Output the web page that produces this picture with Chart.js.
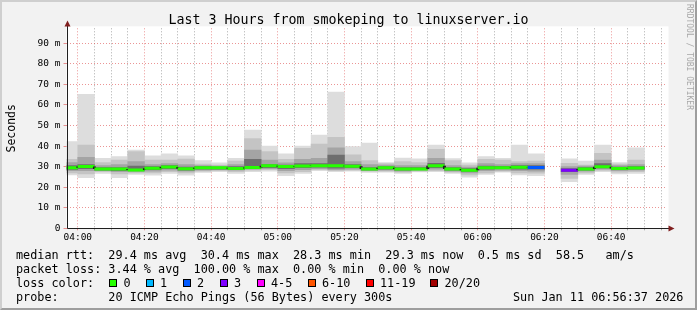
<!DOCTYPE html>
<html><head><meta charset="utf-8">
<script src="https://cdn.jsdelivr.net/npm/chart.js@4"></script>
<style>
html,body{margin:0;padding:0;background:#f2f2f2;}
#wrap{position:relative;width:697px;height:310px;overflow:hidden;background:#f2f2f2;}
#frame{position:absolute;left:0;top:0;width:697px;height:310px;box-sizing:border-box;border-style:solid;border-width:2px;border-color:#cfcfcf #9e9e9e #9e9e9e #cfcfcf;pointer-events:none;}
canvas{position:absolute;left:0;top:0;}
.t{position:absolute;font-family:"DejaVu Sans Mono",monospace;white-space:pre;color:#000;font-size:11.8px;line-height:14px;}
.box{position:absolute;width:6px;height:6px;border:1px solid #000;}
#title{position:absolute;left:0;top:12px;width:697px;text-align:center;font-family:"DejaVu Sans Mono",monospace;font-size:13.3px;line-height:16px;color:#000;white-space:pre;}
#rrd{position:absolute;left:684px;top:4px;writing-mode:vertical-rl;font-family:"DejaVu Sans Mono",monospace;font-size:8px;line-height:10px;color:#a8a8a8;white-space:pre;}
</style></head>
<body>
<div id="wrap">
<canvas id="c" width="697" height="310"></canvas>
<div id="title">Last 3 Hours from smokeping to linuxserver.io</div>
<div id="rrd">RRDTOOL / TOBI OETIKER</div>
<div id="legend"></div>
<div id="frame"></div>
</div>
<script>
// ---- data ----
const intervalStart = ['03:55','04:00','04:05','04:10','04:15','04:20','04:25','04:30','04:35','04:40','04:45','04:50','04:55','05:00','05:05','05:10','05:15','05:20','05:25','05:30','05:35','05:40','05:45','05:50','05:55','06:00','06:05','06:10','06:15','06:20','06:25','06:30','06:35','06:40','06:45'];
const smokeMin = [26.0,24.6,26.7,24.6,26.2,25.9,26.7,25.9,27.2,27.5,26.7,27.5,27.8,25.6,26.7,28.0,27.5,27.8,27.2,27.3,26.7,27.4,27.5,26.7,24.9,26.2,27.3,26.0,25.6,null,22.7,26.2,27.5,26.5,26.7];
const band2Lo  = [27.0,26.5,27.5,26.5,27.0,27.0,27.5,27.0,27.8,28.0,27.5,28.3,28.5,27.0,27.5,28.5,28.0,28.3,27.8,27.8,27.3,27.8,28.0,27.3,26.0,27.0,27.8,27.0,26.8,null,24.3,27.0,28.2,27.3,27.5];
const band3Lo  = [28.0,28.0,28.0,27.5,27.5,27.8,28.3,27.8,28.3,28.5,28.3,28.8,29.0,28.0,28.5,29.0,28.5,28.8,28.0,28.3,27.8,28.2,28.8,27.8,27.0,28.0,28.3,28.0,27.8,null,26.2,27.8,28.8,28.0,28.3];
const band4Lo  = [28.7,29.0,28.3,28.0,28.0,28.5,29.0,28.3,28.8,28.8,28.5,29.2,29.5,29.0,29.5,29.7,29.3,29.5,28.4,28.8,28.3,28.5,29.5,28.3,27.7,28.8,29.0,28.8,28.8,null,27.5,28.3,29.4,28.6,28.8];
const median   = [29.5,30.1,28.8,28.8,28.4,29.2,29.8,29.0,29.5,29.5,29.1,29.6,30.4,30.1,30.3,30.4,30.4,30.2,28.8,29.5,28.8,28.9,30.4,28.8,28.3,29.5,29.5,29.7,29.6,null,28.3,28.8,30.0,29.1,29.3];
const band4Hi  = [30.5,31.0,29.5,29.5,30.3,30.0,30.5,29.8,30.0,29.8,30.0,33.5,31.0,30.8,31.5,31.5,35.6,31.0,29.5,30.0,29.5,29.5,31.6,29.5,29.0,30.3,30.2,30.5,30.5,null,29.0,29.5,31.5,29.8,30.0];
const band3Hi  = [32.0,34.5,30.5,31.0,32.4,31.0,31.5,31.0,30.5,30.3,31.0,38.1,33.2,31.9,33.5,34.0,39.2,32.5,31.0,30.8,30.5,30.5,34.0,30.5,29.8,31.5,31.0,31.5,31.5,null,30.0,30.3,33.2,30.5,31.0];
const band2Hi  = [33.5,40.5,32.0,33.2,37.3,33.2,33.2,33.7,31.3,30.8,32.7,43.7,37.3,33.5,38.9,41.0,44.3,35.7,32.9,31.5,32.4,32.0,38.4,32.9,30.8,33.5,33.2,32.4,32.7,null,31.6,30.8,36.5,31.3,33.2];
const smokeMax = [42.2,65.2,34.0,34.9,38.1,35.2,36.2,35.2,32.9,31.9,34.0,47.8,40.0,36.2,40.0,45.4,66.3,39.7,41.5,32.0,34.2,33.8,40.5,33.9,31.9,34.9,34.1,40.5,36.2,null,33.8,32.7,40.5,32.0,39.2];
const lossCount = [0,0,0,0,0,0,0,0,0,0,0,0,0,0,0,0,0,0,0,0,0,0,0,0,0,0,0,0,2,20,3,0,0,0,0];
const lossLabels = ['0','1','2','3','4-5','6-10','11-19','20/20'];
const lossColors = ['#26ff00','#00b8ff','#0059ff','#7e00ff','#ff00ff','#ff5500','#ff0000','#a10000'];
const yTickValues = [0,5,10,15,20,25,30,35,40,45,50,55,60,65,70,75,80,85,90,95];
const xRange = ['03:56:37','06:56:37'];
const legendLines = [
  'median rtt:  29.4 ms avg  30.4 ms max  28.3 ms min  29.3 ms now  0.5 ms sd  58.5   am/s',
  'packet loss: 3.44 % avg  100.00 % max  0.00 % min  0.00 % now',
  'loss color:',
  'probe:       20 ICMP Echo Pings (56 Bytes) every 300s'
];
const timestampText = 'Sun Jan 11 06:56:37 2026';
const lossBoxX = [109,145.5,182.5,219.5,256.5,307.5,365.5,430];

// ---- helpers ----
const toMin = s => { const p = s.split(':').map(Number); return p[0]*60 + p[1] + (p[2]||0)/60; };
const starts = intervalStart.map(toMin);
const lossIdx = n => n===0?0:n===1?1:n===2?2:n===3?3:n<=5?4:n<=10?5:n<=19?6:7;
const pad2 = n => String(n).padStart(2,'0');

function band(lo, hi){
  const out = [];
  starts.forEach((t,i)=>{ if(lo[i]!=null) out.push({x:t+2.5, y:[lo[i],hi[i]]}); });
  return out;
}
const medPts = [], medCol = [];
starts.forEach((t,i)=>{
  if(median[i]==null){ medPts.push({x:t+2.5,y:null}); medCol.push(null); return; }
  const c = lossColors[lossIdx(lossCount[i])];
  medPts.push({x:t,y:median[i]}); medCol.push(c);
  medPts.push({x:t+5,y:median[i]}); medCol.push(c);
});

// legend html
const lg = document.getElementById('legend');
const rowY = [248,262,276,290];
function addText(txt,x,y){const d=document.createElement('div'); d.className='t'; d.textContent=txt; d.style.left=x+'px'; d.style.top=y+'px'; lg.appendChild(d); return d;}
legendLines.forEach((txt,r)=>addText(txt,16,rowY[r]));
addText(timestampText,513,rowY[3]);
lossLabels.forEach((lab,i)=>{
  const b=document.createElement('div'); b.className='box'; b.style.background=lossColors[i];
  b.style.left=lossBoxX[i]+'px'; b.style.top=(rowY[2]+3)+'px'; lg.appendChild(b);
  addText(lab,lossBoxX[i]+14.5,rowY[2]);
});

const MINOR='rgba(143,143,143,0.75)', MAJOR='rgba(222,79,79,0.6)';
const deco = {
  id:'deco',
  beforeDraw(chart){
    const {ctx, chartArea:a} = chart;
    ctx.save(); ctx.fillStyle='#ffffff';
    ctx.fillRect(a.left, a.top-2, a.right-a.left+2, a.bottom-a.top+2);
    ctx.restore();
  },
  afterDraw(chart){
    const {ctx, chartArea:a} = chart;
    ctx.save();
    ctx.strokeStyle='#1f1f1f'; ctx.lineWidth=1;
    const xl=Math.round(a.left)+0.5, yb=Math.round(a.bottom)+0.5;
    ctx.beginPath(); ctx.moveTo(xl,yb); ctx.lineTo(xl,24); ctx.stroke();
    ctx.beginPath(); ctx.moveTo(xl,yb); ctx.lineTo(669,yb); ctx.stroke();
    ctx.fillStyle='#801f1f';
    ctx.beginPath(); ctx.moveTo(xl-3,26.5); ctx.lineTo(xl+3,26.5); ctx.lineTo(xl,20.5); ctx.closePath(); ctx.fill();
    ctx.beginPath(); ctx.moveTo(668.5,yb-3); ctx.lineTo(668.5,yb+3); ctx.lineTo(674.5,yb); ctx.closePath(); ctx.fill();
    ctx.restore();
  }
};

const barDs = (lo,hi,color,order)=>({type:'bar',data:band(lo,hi),backgroundColor:color,borderWidth:0,grouped:false,barPercentage:1,categoryPercentage:1,order});

new Chart(document.getElementById('c'),{
  type:'bar',
  data:{datasets:[
    {type:'line',data:medPts,borderWidth:3,pointRadius:0,tension:0,spanGaps:false,clip:0,order:0,
     borderCapStyle:'butt',
     segment:{borderColor:ctx=> ctx.p0.parsed.x===ctx.p1.parsed.x ? '#202020' : medCol[ctx.p0DataIndex]}},
    barDs(band4Lo,band4Hi,'#6e6e6e',1),
    barDs(band3Lo,band3Hi,'#a4a4a4',2),
    barDs(band2Lo,band2Hi,'#c4c4c4',3),
    barDs(smokeMin,smokeMax,'#dddddd',4)
  ]},
  options:{
    responsive:false, animation:false, devicePixelRatio:1,
    layout:{autoPadding:false,padding:{left:0,right:30.5,top:28.3,bottom:61.7}},
    plugins:{legend:{display:false},tooltip:{enabled:false},title:{display:false}},
    scales:{
      x:{type:'linear',offset:false,min:toMin(xRange[0]),max:toMin(xRange[1]),
        afterFit:s=>{s.height=20;s.paddingLeft=0;s.paddingRight=0;},
        afterBuildTicks:s=>{const t=[];for(let v=240;v<=415;v+=5)t.push({value:v});s.ticks=t;},
        grid:{offset:false,color:c=>c.tick&&c.tick.value%20===0?MAJOR:MINOR,lineWidth:1,drawTicks:true,tickLength:2},
        border:{display:false,dash:[1,2]},
        ticks:{autoSkip:false,maxRotation:0,minRotation:0,padding:2,color:'#000',
          font:{family:'DejaVu Sans Mono',size:9.5},
          callback:v=> v%20===0 ? pad2(Math.floor(v/60))+':'+pad2(v%60) : ''}
      },
      y:{type:'linear',min:0,max:97.3,
        afterFit:s=>{s.width=66.5;s.paddingTop=0;s.paddingBottom=0;},
        afterBuildTicks:s=>{s.ticks=yTickValues.map(v=>({value:v}));},
        grid:{color:c=>c.tick&&c.tick.value%10===0?MAJOR:MINOR,lineWidth:1,drawTicks:true,tickLength:3},
        border:{display:false,dash:[1,2]},
        ticks:{padding:3,color:'#000',font:{family:'DejaVu Sans Mono',size:9.5},
          callback:v=> v%10!==0 ? '' : (v===0?'0':v+' m')},
        title:{display:true,text:'Seconds',color:'#000',font:{family:'DejaVu Sans Mono',size:11.5},padding:{top:5,bottom:0}}
      }
    }
  },
  plugins:[deco]
});
</script>
</body></html>
